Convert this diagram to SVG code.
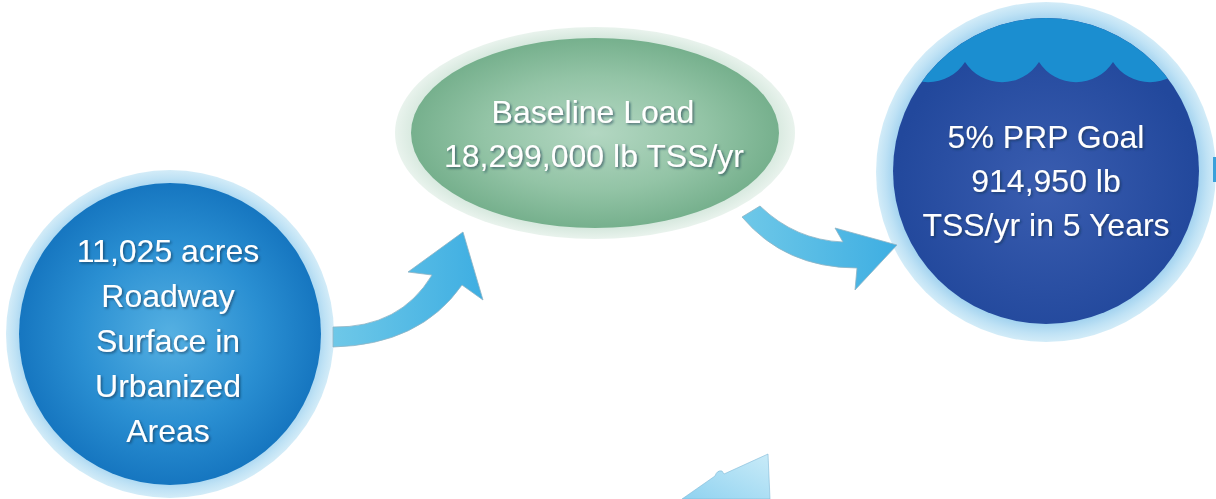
<svg xmlns="http://www.w3.org/2000/svg" width="1216" height="499" viewBox="0 0 1216 499">
<style>
.lbl{font-family:"Liberation Sans",Arial,sans-serif;font-size:32px;fill:#ffffff;text-anchor:middle;filter:url(#ts)}
.arrow{fill:url(#arrowGrad);stroke:#8fb4c4;stroke-width:0.8}
</style>
<defs>
<filter id="ts" x="-10%" y="-30%" width="120%" height="160%">
<feDropShadow dx="1.5" dy="1.5" stdDeviation="1" flood-color="#0a2a4a" flood-opacity="0.6"/>
</filter>
<radialGradient id="ringBlue" cx="50%" cy="50%" r="50%">
<stop offset="0.88" stop-color="#9ccfee"/>
<stop offset="0.95" stop-color="#bfe2f5"/>
<stop offset="1" stop-color="#d3ecf8"/>
</radialGradient>
<radialGradient id="leftFill" cx="50%" cy="50%" r="50%">
<stop offset="0" stop-color="#55b0e2"/>
<stop offset="0.6" stop-color="#2a8fd2"/>
<stop offset="1" stop-color="#1676c0"/>
</radialGradient>
<radialGradient id="ringGreen" cx="50%" cy="50%" r="50%">
<stop offset="0.86" stop-color="#cfe4d8"/>
<stop offset="1" stop-color="#e9f3ed"/>
</radialGradient>
<radialGradient id="greenFill" cx="50%" cy="50%" r="50%">
<stop offset="0" stop-color="#b3d7c2"/>
<stop offset="0.6" stop-color="#93c4a6"/>
<stop offset="1" stop-color="#76b08d"/>
</radialGradient>
<radialGradient id="goalFill" cx="50%" cy="55%" r="50%">
<stop offset="0" stop-color="#3a5db0"/>
<stop offset="1" stop-color="#22489c"/>
</radialGradient>
<linearGradient id="arrowGrad" x1="0" y1="0" x2="1" y2="0">
<stop offset="0" stop-color="#6ec8e8"/>
<stop offset="1" stop-color="#3eaee2"/>
</linearGradient>
<linearGradient id="paleGrad" x1="0" y1="1" x2="1" y2="0">
<stop offset="0" stop-color="#8fd2f0"/>
<stop offset="1" stop-color="#c9ebf8"/>
</linearGradient>
<clipPath id="goalClip"><circle cx="1046" cy="171" r="153"/></clipPath>
</defs>

<g id="node-roadway">
<circle cx="170" cy="334" r="164" fill="url(#ringBlue)"/>
<circle cx="170" cy="334" r="151" fill="url(#leftFill)"/>
<text class="lbl" x="168" y="262">11,025 acres</text>
<text class="lbl" x="168" y="307">Roadway</text>
<text class="lbl" x="168" y="352">Surface in</text>
<text class="lbl" x="168" y="397">Urbanized</text>
<text class="lbl" x="168" y="442">Areas</text>
</g>

<g id="node-baseline">
<ellipse cx="595" cy="133" rx="200" ry="106" fill="url(#ringGreen)"/>
<ellipse cx="595" cy="133" rx="184" ry="95" fill="url(#greenFill)"/>
<text class="lbl" x="593" y="123">Baseline Load</text>
<text class="lbl" x="594" y="167">18,299,000 lb TSS/yr</text>
</g>

<g id="node-goal">
<circle cx="1046" cy="172" r="170" fill="url(#ringBlue)"/>
<circle cx="1046" cy="171" r="153" fill="url(#goalFill)"/>
<path clip-path="url(#goalClip)" fill="#1b8ed0" d="M860,0 L1260,0 L1260,62 L1187,62 A44,44 0 0 1 1113,62 A44,44 0 0 1 1039,62 A44,44 0 0 1 965,62 A44,44 0 0 1 891,62 L860,62 Z"/>
<text class="lbl" x="1046" y="148">5% PRP Goal</text>
<text class="lbl" x="1046" y="192">914,950 lb</text>
<text class="lbl" x="1046" y="236">TSS/yr in 5 Years</text>
</g>

<g id="connectors">
<path id="arrow-roadway-baseline" class="arrow" d="M333,327 Q400,328 432,275 L408,272 L463,232 L483,300 L462,285 Q420,345 333,347 Z"/>
<path id="arrow-baseline-goal" class="arrow" d="M760,206 Q795,240 843,242 L835,228 L897,245 L855,290 L857,268 Q785,268 742,217 Z"/>
<path id="arrow-partial-bottom" d="M682,499 L715,476 Q717,470 722,471 L724,474 L768,454 L770,499 Z" fill="url(#paleGrad)" stroke="#7fb8d6" stroke-width="0.6"/>
<rect id="arrow-partial-right" x="1213" y="157" width="3" height="25" fill="#3aa0da"/>
</g>
</svg>
